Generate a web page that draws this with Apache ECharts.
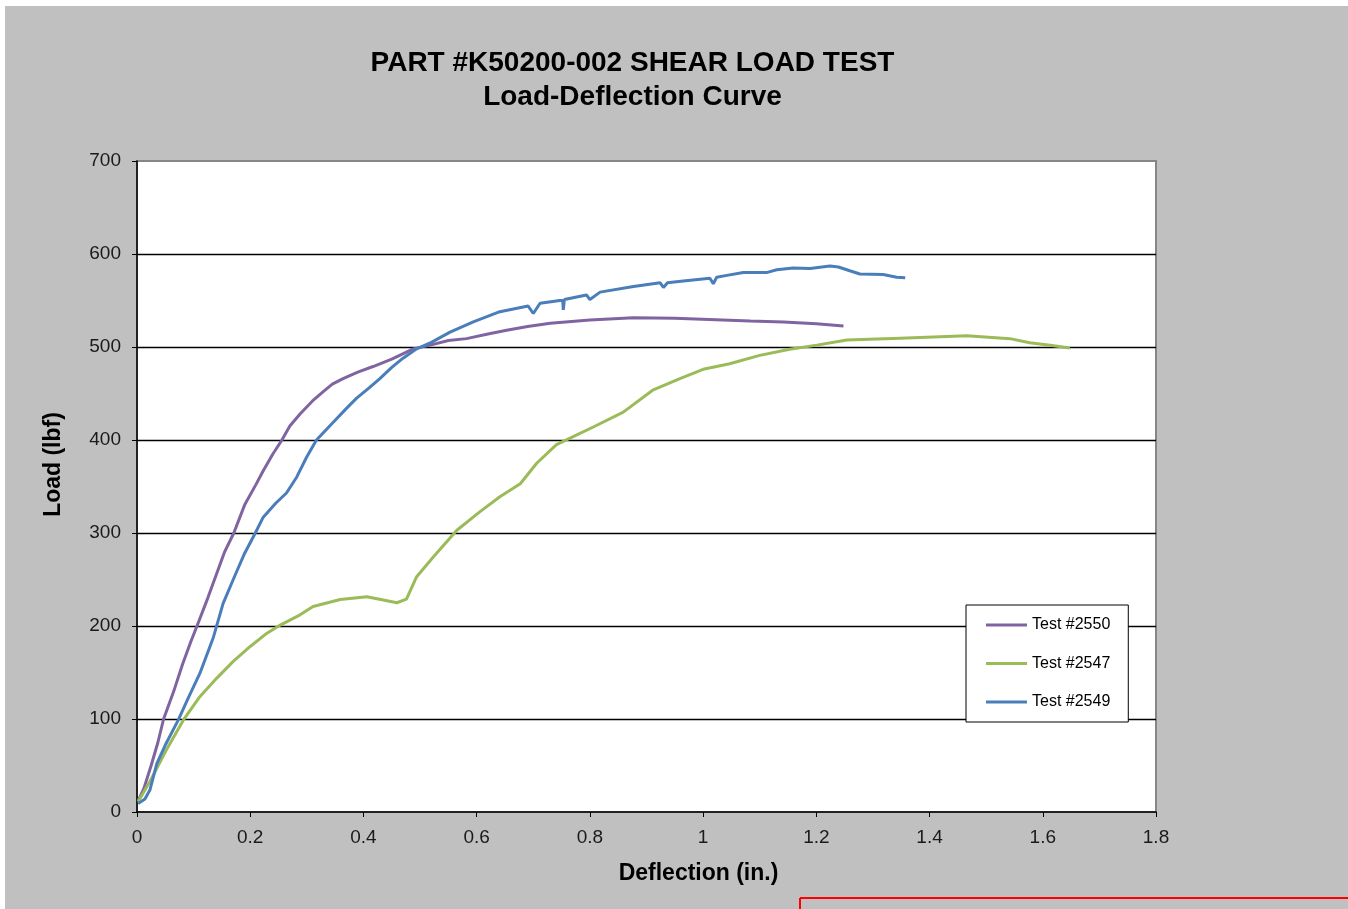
<!DOCTYPE html>
<html>
<head>
<meta charset="utf-8">
<script src="https://cdn.jsdelivr.net/npm/echarts@6/dist/echarts.min.js"></script>
<style>
  html, body { margin: 0; padding: 0; background: #ffffff; }
  #back { position: absolute; left: 5px; top: 6px; width: 1343px; height: 903px; background: #c0c0c0; }
  #chart { position: absolute; left: 0; top: 0; width: 1348px; height: 909px; }
</style>
</head>
<body>
<div id="back"></div>
<div id="chart"></div>
<script>
// deflection (in.), load (lbf)
const test2550 = [
  [0.002, 12], [0.012, 25], [0.025, 50], [0.037, 75], [0.047, 100], [0.065, 130],
  [0.08, 158], [0.095, 183], [0.106, 200], [0.125, 230], [0.14, 255], [0.155, 280],
  [0.171, 300], [0.19, 330], [0.21, 352], [0.223, 367], [0.24, 385], [0.256, 400],
  [0.27, 415], [0.288, 428], [0.31, 442], [0.329, 452], [0.345, 460], [0.364, 466],
  [0.39, 473], [0.417, 479], [0.45, 487], [0.488, 498], [0.518, 502], [0.55, 507],
  [0.582, 509], [0.62, 514], [0.653, 518], [0.69, 522], [0.73, 525.5], [0.8, 529],
  [0.877, 531.5], [0.95, 531], [1.083, 528], [1.142, 527], [1.2, 525], [1.248, 522.5]
];
const test2547 = [
  [0.002, 11], [0.023, 33], [0.052, 67], [0.082, 99], [0.111, 124], [0.141, 144],
  [0.17, 162], [0.2, 178], [0.229, 192], [0.253, 201], [0.288, 212], [0.311, 221],
  [0.359, 228.5], [0.406, 231.5], [0.435, 228], [0.459, 225], [0.476, 229], [0.494, 253],
  [0.523, 274], [0.565, 303], [0.606, 323], [0.641, 339], [0.677, 353], [0.706, 375],
  [0.741, 395], [0.765, 402], [0.806, 414], [0.859, 430], [0.912, 454], [0.959, 466],
  [1.0, 476], [1.047, 482], [1.1, 491], [1.153, 497.5], [1.201, 502], [1.254, 507.5],
  [1.348, 509.5], [1.466, 512], [1.542, 509], [1.577, 504.5], [1.613, 502], [1.648, 499]
];
const test2549 = [
  [0.002, 9], [0.014, 14], [0.023, 24], [0.035, 52], [0.05, 72], [0.073, 99],
  [0.09, 122], [0.111, 149], [0.135, 188], [0.152, 224], [0.17, 250], [0.19, 278],
  [0.209, 300], [0.223, 317], [0.245, 332], [0.264, 343], [0.282, 360], [0.3, 382],
  [0.317, 400], [0.345, 418], [0.37, 434], [0.388, 445], [0.41, 456], [0.429, 466],
  [0.45, 478], [0.47, 488], [0.494, 498], [0.52, 505], [0.553, 516], [0.594, 527],
  [0.641, 538], [0.691, 544], [0.700, 536], [0.712, 547], [0.747, 550], [0.752, 550],
  [0.753, 540], [0.755, 551], [0.794, 556], [0.800, 551], [0.818, 559], [0.877, 565],
  [0.924, 569], [0.930, 564], [0.937, 569], [0.965, 571], [1.012, 574], [1.018, 568],
  [1.024, 575], [1.042, 577], [1.071, 580], [1.112, 580], [1.130, 583], [1.159, 585],
  [1.189, 584.5], [1.224, 587], [1.239, 586], [1.259, 582], [1.277, 578.5], [1.318, 578],
  [1.342, 575], [1.357, 574.5]
];
const seriesNames = ['Test #2550', 'Test #2547', 'Test #2549'];
const seriesColors = ['#8064A2', '#9BBB59', '#4A7EBB'];
const seriesData = [test2550, test2547, test2549];

const FONT = '"Liberation Sans", Arial, sans-serif';
const chart = echarts.init(document.getElementById('chart'));

chart.setOption({
  backgroundColor: 'transparent',
  animation: false,
  title: {
    text: 'PART #K50200-002 SHEAR LOAD TEST\nLoad-Deflection Curve',
    left: 632.5,
    top: 46,
    padding: 0,
    textAlign: 'center',
    textStyle: { fontFamily: FONT, fontSize: 28, fontWeight: 'bold', color: '#000', lineHeight: 34 }
  },
  grid: {
    left: 137, top: 161, right: 192, bottom: 97,
    show: true, backgroundColor: '#ffffff', borderColor: '#868686', borderWidth: 2
  },
  legend: {
    orient: 'vertical',
    left: 966, top: 605,
    data: seriesNames.map(n => ({ name: n, icon: 'rect' })),
    itemWidth: 41, itemHeight: 3, itemGap: 22.5,
    padding: [12, 18, 12, 20],
    backgroundColor: '#ffffff', borderColor: '#000', borderWidth: 1,
    textStyle: { fontFamily: FONT, fontSize: 16, color: '#000', lineHeight: 16 }
  },
  xAxis: {
    type: 'value', min: 0, max: 1.8, interval: 0.2,
    name: 'Deflection (in.)', nameLocation: 'middle', nameGap: 50,
    nameTextStyle: { fontFamily: FONT, fontSize: 23, fontWeight: 'bold', color: '#000', padding: [0, 0, 0, 104] },
    axisLine: { show: true, onZero: false, lineStyle: { color: '#000', width: 1.5 } },
    axisTick: { show: true, length: 5, lineStyle: { color: '#000' } },
    axisLabel: { margin: 16, fontFamily: FONT, fontSize: 19, color: '#1a1a1a',
      formatter: v => String(Math.round(v * 10) / 10) },
    splitLine: { show: false }
  },
  yAxis: {
    type: 'value', min: 0, max: 700, interval: 100,
    name: 'Load (lbf)', nameLocation: 'middle', nameGap: 72,
    nameTextStyle: { fontFamily: FONT, fontSize: 23, fontWeight: 'bold', color: '#000', padding: [0, 0, 0, 44] },
    axisLine: { show: true, lineStyle: { color: '#000', width: 1.5 } },
    axisTick: { show: true, length: 5, lineStyle: { color: '#000' } },
    axisLabel: { margin: 16, fontFamily: FONT, fontSize: 19, color: '#1a1a1a' },
    splitLine: { show: true, showMinLine: false, showMaxLine: false, lineStyle: { color: '#000', width: 1.3 } }
  },
  series: seriesNames.map((name, i) => ({
    name: name,
    type: 'line',
    data: seriesData[i],
    showSymbol: false,
    smooth: false,
    color: seriesColors[i],
    lineStyle: { color: seriesColors[i], width: 3 }
  })),
  graphic: [
    { type: 'line', silent: true, shape: { x1: 800, y1: 898, x2: 1348, y2: 898 }, style: { stroke: '#ff0000', lineWidth: 2 } },
    { type: 'line', silent: true, shape: { x1: 800, y1: 898, x2: 800, y2: 909 }, style: { stroke: '#ff0000', lineWidth: 2 } }
  ]
});
</script>
</body>
</html>
